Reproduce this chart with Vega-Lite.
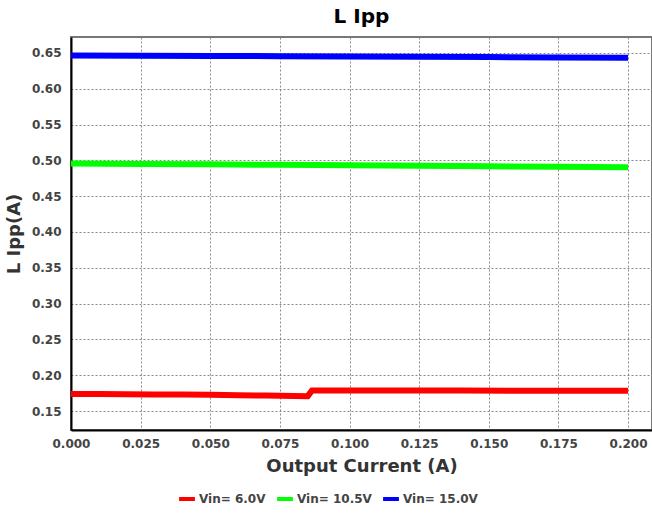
{
  "$schema": "https://vega.github.io/schema/vega-lite/v6.json",
  "width": 581,
  "height": 393,
  "autosize": {"type": "none"},
  "padding": {"left": 71, "top": 37, "right": 0, "bottom": 83},
  "background": "white",
  "config": {
    "font": "DejaVu Sans",
    "view": {"stroke": "#777", "strokeWidth": 2},
    "title": {"fontSize": 20, "fontWeight": "bold", "color": "#000", "offset": 10}
  },
  "title": {"text": "L Ipp"},
  "data": {"values": [
    {"x": 0.000, "y": 0.1738, "s": "Vin= 6.0V"},
    {"x": 0.010, "y": 0.1736, "s": "Vin= 6.0V"},
    {"x": 0.020, "y": 0.1734, "s": "Vin= 6.0V"},
    {"x": 0.030, "y": 0.1732, "s": "Vin= 6.0V"},
    {"x": 0.040, "y": 0.1729, "s": "Vin= 6.0V"},
    {"x": 0.050, "y": 0.1726, "s": "Vin= 6.0V"},
    {"x": 0.060, "y": 0.1721, "s": "Vin= 6.0V"},
    {"x": 0.070, "y": 0.1716, "s": "Vin= 6.0V"},
    {"x": 0.080, "y": 0.1711, "s": "Vin= 6.0V"},
    {"x": 0.085, "y": 0.1708, "s": "Vin= 6.0V"},
    {"x": 0.0865, "y": 0.1785, "s": "Vin= 6.0V"},
    {"x": 0.100, "y": 0.1785, "s": "Vin= 6.0V"},
    {"x": 0.120, "y": 0.1785, "s": "Vin= 6.0V"},
    {"x": 0.140, "y": 0.1785, "s": "Vin= 6.0V"},
    {"x": 0.160, "y": 0.1784, "s": "Vin= 6.0V"},
    {"x": 0.180, "y": 0.1784, "s": "Vin= 6.0V"},
    {"x": 0.200, "y": 0.1784, "s": "Vin= 6.0V"},
    {"x": 0.000, "y": 0.4955, "s": "Vin= 10.5V"},
    {"x": 0.025, "y": 0.4950, "s": "Vin= 10.5V"},
    {"x": 0.050, "y": 0.4945, "s": "Vin= 10.5V"},
    {"x": 0.075, "y": 0.4938, "s": "Vin= 10.5V"},
    {"x": 0.100, "y": 0.4932, "s": "Vin= 10.5V"},
    {"x": 0.125, "y": 0.4925, "s": "Vin= 10.5V"},
    {"x": 0.150, "y": 0.4918, "s": "Vin= 10.5V"},
    {"x": 0.175, "y": 0.4911, "s": "Vin= 10.5V"},
    {"x": 0.200, "y": 0.4905, "s": "Vin= 10.5V"},
    {"x": 0.000, "y": 0.6465, "s": "Vin= 15.0V"},
    {"x": 0.025, "y": 0.6462, "s": "Vin= 15.0V"},
    {"x": 0.050, "y": 0.6459, "s": "Vin= 15.0V"},
    {"x": 0.075, "y": 0.6455, "s": "Vin= 15.0V"},
    {"x": 0.100, "y": 0.6451, "s": "Vin= 15.0V"},
    {"x": 0.125, "y": 0.6447, "s": "Vin= 15.0V"},
    {"x": 0.150, "y": 0.6442, "s": "Vin= 15.0V"},
    {"x": 0.175, "y": 0.6437, "s": "Vin= 15.0V"},
    {"x": 0.200, "y": 0.6432, "s": "Vin= 15.0V"}
  ]},
  "mark": {"type": "line", "strokeWidth": 6, "interpolate": "linear"},
  "encoding": {
    "x": {
      "field": "x", "type": "quantitative",
      "scale": {"domain": [0, 0.2086], "nice": false, "zero": false},
      "axis": {
        "values": [0, 0.025, 0.05, 0.075, 0.1, 0.125, 0.15, 0.175, 0.2],
        "format": ".3f",
        "title": "Output Current (A)",
        "titleFontSize": 18, "titleFontWeight": "bold", "titleColor": "#333", "titlePadding": 8,
        "labelFontSize": 12, "labelFontWeight": "bold", "labelColor": "#444", "labelPadding": 8,
        "labelFlush": false,
        "domainColor": "#000", "domainWidth": 2,
        "ticks": false,
        "grid": true, "gridColor": "#888", "gridDash": [2, 2], "gridWidth": 1
      }
    },
    "y": {
      "field": "y", "type": "quantitative",
      "scale": {"domain": [0.1235, 0.6723], "nice": false, "zero": false},
      "axis": {
        "values": [0.15, 0.2, 0.25, 0.3, 0.35, 0.4, 0.45, 0.5, 0.55, 0.6, 0.65],
        "format": ".2f",
        "title": "L Ipp(A)",
        "titleFontSize": 18, "titleFontWeight": "bold", "titleColor": "#333", "titlePadding": 8,
        "labelFontSize": 12, "labelFontWeight": "bold", "labelColor": "#444", "labelPadding": 10,
        "domainColor": "#000", "domainWidth": 2,
        "ticks": false,
        "grid": true, "gridColor": "#888", "gridDash": [2, 2], "gridWidth": 1
      }
    },
    "color": {
      "field": "s", "type": "nominal",
      "scale": {"domain": ["Vin= 6.0V", "Vin= 10.5V", "Vin= 15.0V"], "range": ["#ff0000", "#00ff00", "#0000ff"]},
      "legend": {
        "title": null,
        "orient": "none",
        "direction": "horizontal",
        "legendX": 106,
        "legendY": 452,
        "symbolType": "stroke",
        "symbolStrokeWidth": 4,
        "symbolSize": 250,
        "labelFontSize": 12,
        "labelFontWeight": "bold",
        "labelColor": "#444",
        "labelOffset": 2,
        "columnPadding": 3
      }
    }
  }
}
